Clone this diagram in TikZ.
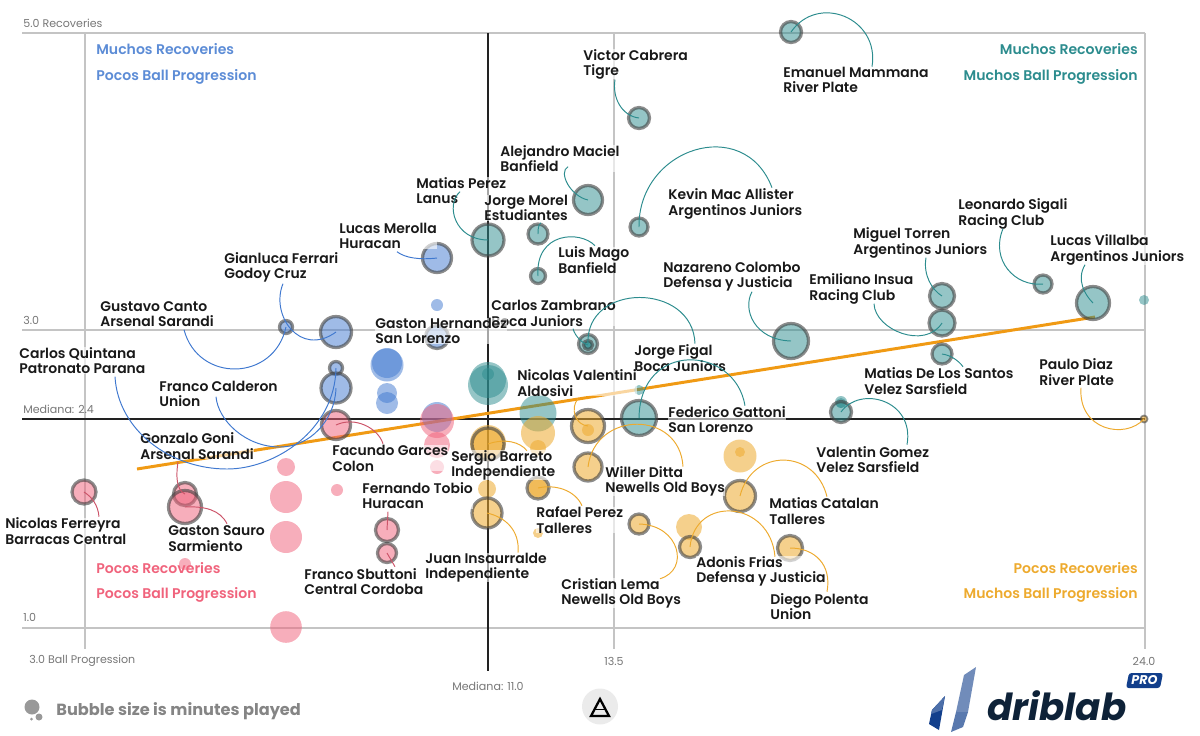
\documentclass[tikz,border=0pt]{standalone}
\usepackage{fontspec}
\setmainfont{Poppins}
\newfontfamily\labfont{Poppins SemiBold}
\usetikzlibrary{calc}

\definecolor{blueb}{HTML}{3F78CF}
\definecolor{tealb}{HTML}{2C8C8E}
\definecolor{redb}{HTML}{F0637C}
\definecolor{yelb}{HTML}{EDAA2E}
\definecolor{gridc}{HTML}{C4C4C4}
\definecolor{axisc}{HTML}{222222}
\definecolor{trendc}{HTML}{F09A14}
\definecolor{tickc}{HTML}{777777}
\definecolor{navyc}{HTML}{0E2238}
\definecolor{proc}{HTML}{123F8C}

\tikzset{
  rad/.style={circle,inner sep=0pt,outer sep=0pt,minimum size=#1*0.04cm},
  ring/.style={draw=black!75,draw opacity=.6,line width=1.85pt},
  bluebub/.style={fill=blueb,fill opacity=.5},
  tealbub/.style={fill=tealb,fill opacity=.5},
  redbub/.style={fill=redb,fill opacity=.52},
  yelbub/.style={fill=yelb,fill opacity=.55},
  bluearc/.style={draw=blueb,line width=.55pt},
  tealarc/.style={draw=tealb,line width=.55pt},
  redarc/.style={draw=redb!85!black,line width=.55pt},
  yelarc/.style={draw=yelb,line width=.55pt},
  lab/.style={anchor=west,align=left,inner sep=0pt,yshift=-0.4pt,fill=white,fill opacity=.6,text opacity=1,
    font=\labfont\fontsize{7.95pt}{8.8pt}\selectfont,text=black!90},
  corner/.style={font=\labfont\fontsize{8pt}{9pt}\selectfont,inner sep=0pt},
  tick/.style={font=\fontsize{6.3pt}{8pt}\selectfont,text=tickc,inner sep=0pt}
}

\begin{document}
\begin{tikzpicture}[x=0.02cm, y=-0.02cm]
\useasboundingbox (0,0) rectangle (1200,735);

% grid
\draw[gridc,line width=.7pt] (22,33) -- (1145,33);
\draw[gridc,line width=.7pt] (22,330) -- (1145,330);
\draw[gridc,line width=.7pt] (22,628) -- (1145,628);
\draw[gridc,line width=.7pt] (85,33) -- (85,649);
\draw[gridc,line width=.7pt] (614,33) -- (614,649);
\draw[gridc,line width=.7pt] (1145,33) -- (1145,649);

% medians
\draw[axisc,line width=1.2pt] (22,419) -- (1145,419);
\draw[axisc,line width=1.2pt] (488,33) -- (488,671);

% trend
\draw[trendc,line width=1.7pt] (137,469) -- (1095,317);

% tick labels
\node[tick,anchor=west] (tytop) at (23,23) {5.0 Recoveries};
\node[tick,anchor=west] (tymid) at (23,320) {3.0};
\node[tick,anchor=west] (tymed) at (23,409) {Mediana: 2.4};
\node[tick,anchor=west] (tylow) at (23,617) {1.0};
\node[tick,anchor=west] (txlow) at (29,661) {3.0 Ball Progression};
\node[tick] (txmid) at (614,661) {13.5};
\node[tick] (txtop) at (1144,661) {24.0};
\node[tick] (txmed) at (488,686) {Mediana: 11.0};

% other players
\fill[bluebub] (437,417) circle (15);
\fill[redbub] (286,467) circle (9);
\fill[redbub] (286,497) circle (16);
\fill[redbub] (286,537) circle (16);
\fill[redbub] (337,490) circle (6);
\fill[redbub] (185,564) circle (6);
\fill[redbub] (286,627) circle (15.8);
\fill[redbub] (437,421) circle (17);
\fill[redbub] (437,445) circle (13);
\fill[redbub] (437,467) circle (7);
\fill[bluebub] (437,305) circle (6);
\fill[bluebub] (387,365) circle (16.5);
\fill[bluebub] (387,363) circle (15);
\fill[bluebub] (387,393) circle (10);
\fill[bluebub] (387,403) circle (11);
\fill[tealbub] (488,380) circle (18);
\fill[tealbub] (488,385) circle (20);
\fill[tealbub] (488,374) circle (6);
\fill[tealbub] (538,413) circle (18.5);
\fill[tealbub] (639,390) circle (5);
\fill[tealbub] (1144,300) circle (5);
\fill[tealbub] (841,402) circle (6);
\fill[tealbub] (841,403) circle (5);
\fill[tealbub] (588,345) circle (4);
\fill[yelbub] (538,433) circle (17);
\fill[yelbub] (538,448) circle (8);
\fill[yelbub] (588,430) circle (6);
\fill[yelbub] (488,443) circle (18);
\fill[yelbub] (487,489) circle (9);
\fill[yelbub] (538,533) circle (5);
\fill[yelbub] (538,488) circle (9);
\fill[yelbub] (689,527) circle (13);
\fill[yelbub] (740,456) circle (16.5);
\fill[yelbub] (740,452) circle (5);

% named players
\node[rad=10.5,ring,tealbub] (mammana) at (791,32) {};
\node[rad=10.5,ring,tealbub] (cabrera) at (639,118) {};
\node[rad=14.5,ring,tealbub] (maciel) at (588,200) {};
\node[rad=16,ring,tealbub] (mperez) at (488,240) {};
\node[rad=9,ring,tealbub] (macallister) at (639,227) {};
\node[rad=10,ring,tealbub] (morel) at (538,234) {};
\node[rad=7.5,ring,tealbub] (mago) at (538,276) {};
\node[rad=17.5,ring,tealbub] (colombo) at (791,341) {};
\node[rad=12.5,ring,tealbub] (torren) at (942,296) {};
\node[rad=13,ring,tealbub] (insua) at (942,323) {};
\node[rad=10,ring,tealbub] (santos) at (942,354) {};
\node[rad=9,ring,tealbub] (sigali) at (1043,284) {};
\node[rad=16.5,ring,tealbub] (villalba) at (1093,303) {};
\node[rad=10.5,ring,tealbub] (gomez) at (841,412) {};
\node[rad=9.5,ring,tealbub] (figal) at (588,344) {};
\node[rad=4.5,ring,tealbub] (zambrano) at (588,345) {};
\node[rad=17.5,ring,tealbub] (gattoni) at (639,418) {};
\node[rad=14.5,ring,bluebub] (merolla) at (437,258) {};
\node[rad=15.5,ring,bluebub] (ferrari) at (336,332) {};
\node[rad=6.5,ring,bluebub] (canto) at (286,327) {};
\node[rad=6.5,ring,bluebub] (quintana) at (336,368) {};
\node[rad=15,ring,bluebub] (calderon) at (336,388) {};
\node[rad=11.5,ring,bluebub] (hernandez) at (437,337) {};
\node[rad=14.5,ring,redbub] (garces) at (336,425) {};
\node[rad=12,ring,redbub] (ferreyra) at (84,492) {};
\node[rad=11.5,ring,redbub] (goni) at (185,494) {};
\node[rad=16.5,ring,redbub] (sauro) at (185,507) {};
\node[rad=11.5,ring,redbub] (tobio) at (387,530) {};
\node[rad=9.5,ring,redbub] (sbuttoni) at (387,553) {};
\node[rad=16.5,ring,yelbub] (valentini) at (588,426) {};
\node[rad=16,ring,yelbub] (barreto) at (488,444) {};
\node[rad=14,ring,yelbub] (ditta) at (588,467) {};
\node[rad=11,ring,yelbub] (rperez) at (538,488) {};
\node[rad=15,ring,yelbub] (insaurralde) at (487,513) {};
\node[rad=10,ring,yelbub] (lema) at (639,524) {};
\node[rad=10.5,ring,yelbub] (frias) at (690,547) {};
\node[rad=12.5,ring,yelbub] (polenta) at (790,548) {};
\node[rad=15.5,ring,yelbub] (catalan) at (740,496) {};
\node[rad=3.5,ring,line width=1pt,yelbub] (diaz) at (1144,419) {};

% labels
\node[lab] (cabrera-t) at (583,63.5) {Victor Cabrera\\Tigre};
\node[lab] (mammana-t) at (783,79) {Emanuel Mammana\\River Plate};
\node[lab] (maciel-t) at (500,158) {Alejandro Maciel\\Banfield};
\node[lab] (mperez-t) at (416,190) {Matias Perez\\Lanus};
\node[lab] (macallister-t) at (668,203) {Kevin Mac Allister\\Argentinos Juniors};
\node[lab] (morel-t) at (484,207) {Jorge Morel\\Estudiantes};
\node[lab] (merolla-t) at (339,235) {Lucas Merolla\\Huracan};
\node[lab] (mago-t) at (558,259.5) {Luis Mago\\Banfield};
\node[lab] (ferrari-t) at (224,266.5) {Gianluca Ferrari\\Godoy Cruz};
\node[lab] (colombo-t) at (663,276) {Nazareno Colombo\\Defensa y Justicia};
\node[lab] (sigali-t) at (958,213) {Leonardo Sigali\\Racing Club};
\node[lab] (torren-t) at (853,242) {Miguel Torren\\Argentinos Juniors};
\node[lab] (villalba-t) at (1050,249) {Lucas Villalba\\Argentinos Juniors};
\node[lab] (insua-t) at (809,288) {Emiliano Insua\\Racing Club};
\node[lab] (canto-t) at (100,313.5) {Gustavo Canto\\Arsenal Sarandi};
\node[lab] (zambrano-t) at (491,312.5) {Carlos Zambrano\\Boca Juniors};
\node[lab] (hernandez-t) at (375,330) {Gaston Hernandez\\San Lorenzo};
\node[lab] (quintana-t) at (19,360) {Carlos Quintana\\Patronato Parana};
\node[lab] (figal-t) at (634,357.5) {Jorge Figal\\Boca Juniors};
\node[lab] (diaz-t) at (1039,371.5) {Paulo Diaz\\River Plate};
\node[lab] (valentini-t) at (517,382.5) {Nicolas Valentini\\Aldosivi};
\node[lab] (santos-t) at (864,380.5) {Matias De Los Santos\\Velez Sarsfield};
\node[lab] (calderon-t) at (159,393) {Franco Calderon\\Union};
\node[lab] (gattoni-t) at (668,419) {Federico Gattoni\\San Lorenzo};
\node[lab] (goni-t) at (140,445.5) {Gonzalo Goni\\Arsenal Sarandi};
\node[lab] (garces-t) at (332,457.5) {Facundo Garces\\Colon};
\node[lab] (gomez-t) at (816,459) {Valentin Gomez\\Velez Sarsfield};
\node[lab] (barreto-t) at (451,464.5) {Sergio Barreto\\Independiente};
\node[lab] (ditta-t) at (605,480.5) {Willer Ditta\\Newells Old Boys};
\node[lab] (tobio-t) at (362,495) {Fernando Tobio\\Huracan};
\node[lab] (catalan-t) at (769,510.5) {Matias Catalan\\Talleres};
\node[lab] (rperez-t) at (536,519.5) {Rafael Perez\\Talleres};
\node[lab] (ferreyra-t) at (5,530.5) {Nicolas Ferreyra\\Barracas Central};
\node[lab] (sauro-t) at (168,538) {Gaston Sauro\\Sarmiento};
\node[lab] (insaurralde-t) at (425,567) {Juan Insaurralde\\Independiente};
\node[lab] (frias-t) at (696,570.5) {Adonis Frias\\Defensa y Justicia};
\node[lab] (sbuttoni-t) at (304,581) {Franco Sbuttoni\\Central Cordoba};
\node[lab] (lema-t) at (561,592.5) {Cristian Lema\\Newells Old Boys};
\node[lab] (polenta-t) at (770,606) {Diego Polenta\\Union};

% connectors
\draw[tealarc] ($(mammana-t.west)+(89,-13)$) .. controls (880,18) and (818,-7) .. (mammana.center);
\draw[tealarc] ($(cabrera-t.west)+(32,15.5)$) .. controls (612,98) and (622,116) .. (cabrera.center);
\draw[tealarc] ($(maciel-t.west)+(68,8)$) .. controls (558,172) and (570,196) .. (maciel.center);
\draw[tealarc] ($(mperez-t.west)+(44,1)$) .. controls (445,205) and (455,240) .. (mperez.center);
\draw[tealarc] ($(macallister-t.west)+(104,-16)$) .. controls (744,114) and (638,148) .. (macallister.center);
\draw[tealarc] ($(morel-t.west)+(57,15)$) .. controls (538,225) and (538,230) .. (morel.center);
\draw[tealarc] ($(mago-t.west)+(37,-14.5)$) .. controls (580,230) and (535,232) .. (mago.center);
\draw[tealarc] ($(colombo-t.west)+(89,15)$) .. controls (742,310) and (755,340) .. (colombo.center);
\draw[tealarc] ($(torren-t.west)+(73,15)$) .. controls (923,275) and (932,290) .. (torren.center);
\draw[tealarc] ($(insua-t.west)+(65,15)$) .. controls (875,330) and (925,350) .. (insua.center);
\draw[tealarc] ($(santos-t.west)+(99,-14.5)$) .. controls (958,360) and (950,355) .. (santos.center);
\draw[tealarc] ($(sigali-t.west)+(45,15)$) .. controls (990,260) and (1015,287) .. (sigali.center);
\draw[tealarc] ($(villalba-t.west)+(35,15)$) .. controls (1076,280) and (1085,295) .. (villalba.center);
\draw[tealarc] ($(gomez-t.west)+(91,-15)$) .. controls (915,400) and (860,385) .. (gomez.center);
\draw[tealarc] ($(figal-t.west)+(61,-14.5)$) .. controls (693,282) and (585,282) .. (figal.center);
\draw[tealarc] ($(zambrano-t.west)+(82,15.5)$) .. controls (575,336) and (582,343) .. (zambrano.center);
\draw[tealarc] ($(gattoni-t.west)+(77,-14)$) .. controls (735,345) and (640,340) .. (gattoni.center);
\draw[bluearc] ($(merolla-t.west)+(58,16)$) .. controls (405,258) and (420,260) .. (merolla.center);
\draw[bluearc] ($(ferrari-t.west)+(59,16.5)$) .. controls (270,315) and (300,358) .. (ferrari.center);
\draw[bluearc] ($(canto-t.west)+(84,15.5)$) .. controls (198,383) and (274,382) .. (canto.center);
\draw[bluearc] ($(quintana-t.west)+(96,16)$) .. controls (118,430) and (170,469) .. (227,469) .. controls (275,469) and (335,430) .. (quintana.center);
\draw[bluearc] ($(calderon-t.west)+(57,3)$) .. controls (218,420) and (245,447) .. (280,447) .. controls (310,447) and (335,420) .. (calderon.center);
\draw[redarc] ($(garces-t.west)+(51,-14.5)$) .. controls (378,428) and (355,416) .. (garces.center);
\draw[redarc] ($(ferreyra-t.west)+(94,-14.5)$) .. controls (98,505) and (92,497) .. (ferreyra.center);
\draw[redarc] ($(goni-t.west)+(38,15.5)$) .. controls (176,475) and (176,490) .. (goni.center);
\draw[redarc] ($(sauro-t.west)+(59,-15)$) .. controls (220,510) and (205,506) .. (sauro.center);
\draw[redarc] ($(tobio-t.west)+(26,16)$) -- (tobio.center);
\draw[redarc] ($(sbuttoni-t.west)+(91,-15)$) -- (sbuttoni.center);
\draw[yelarc] ($(valentini-t.west)+(61,15.5)$) .. controls (570,408) and (575,425) .. (valentini.center);
\draw[yelarc] ($(barreto-t.west)+(76,-14.5)$) .. controls (520,442) and (505,438) .. (barreto.center);
\draw[yelarc] ($(ditta-t.west)+(78,-14.5)$) .. controls (680,410) and (595,410) .. (ditta.center);
\draw[yelarc] ($(rperez-t.west)+(46,-14.5)$) .. controls (575,490) and (555,484) .. (rperez.center);
\draw[yelarc] ($(insaurralde-t.west)+(93,-15)$) .. controls (520,530) and (505,517) .. (insaurralde.center);
\draw[yelarc] ($(lema-t.west)+(99,-14.5)$) .. controls (690,570) and (680,525) .. (lema.center);
\draw[yelarc] ($(frias-t.west)+(79,-14.5)$) .. controls (770,500) and (695,495) .. (frias.center);
\draw[yelarc] ($(polenta-t.west)+(57,-15)$) .. controls (832,565) and (815,548) .. (polenta.center);
\draw[yelarc] ($(catalan-t.west)+(58,-14.5)$) .. controls (815,448) and (752,448) .. (catalan.center);
\draw[yelarc] ($(diaz-t.west)+(42,15.5)$) .. controls (1078,430) and (1125,440) .. (diaz.center);

% quadrant titles
\node[corner,anchor=west,text=blueb!85] (tlone) at (96,49) {Muchos Recoveries};
\node[corner,anchor=west,text=blueb!85] (tltwo) at (96,77) {Pocos Ball Progression};
\node[corner,anchor=east,text=tealb] (trone) at (1138,49) {Muchos Recoveries};
\node[corner,anchor=east,text=tealb] (trtwo) at (1138,77) {Muchos Ball Progression};
\node[corner,anchor=west,text=redb] (blone) at (96,568) {Pocos Recoveries};
\node[corner,anchor=west,text=redb] (bltwo) at (96,595) {Pocos Ball Progression};
\node[corner,anchor=east,text=yelb] (brone) at (1138,568) {Pocos Recoveries};
\node[corner,anchor=east,text=yelb] (brtwo) at (1138,595) {Muchos Ball Progression};

% bubble legend
\fill[black!40] (32,707) circle (7.5);
\fill[black!40] (39,717) circle (3.5);
\fill[black!40] (31.5,719) circle (1.5);
\node[anchor=west,inner sep=0pt,text=black!48,font=\fontsize{9.2pt}{10pt}\selectfont\bfseries] (legend) at (56,711) {Bubble size is minutes played};

% centre mark
\fill[black!8] (600,706.5) circle (18);
\draw[black,line width=1.3pt,line join=miter] (600,699) -- (609,716) -- (591,716) -- cycle;
\draw[black,line width=1pt] (595,709.5) -- (605,709.5);

% driblab logo
\fill[proc] (945,696) -- (932,710) -- (929,724) -- (939,730) -- cycle;
\fill[proc!75!white] (945,696) -- (932,710) -- (931,714) -- (942,710) -- cycle;
\fill[proc!60!white] (976,667) -- (964,675) -- (956,712) -- (968,712) -- cycle;
\fill[proc!70!white] (956,712) -- (951,732) -- (963,727) -- (968,712) -- cycle;
\node[anchor=west,inner sep=0pt,text=navyc,font=\fontsize{21.2pt}{24pt}\selectfont\bfseries\itshape] (driblab) at (987,706) {driblab};
\fill[proc,rounded corners=1.5pt] (1129,673) -- (1163,673) -- (1160,688) -- (1126,688) -- cycle;
\node[inner sep=0pt,text=white,font=\fontsize{7.2pt}{8pt}\selectfont\bfseries\itshape] (pro) at (1144.5,680.5) {PRO};

\end{tikzpicture}
\end{document}
